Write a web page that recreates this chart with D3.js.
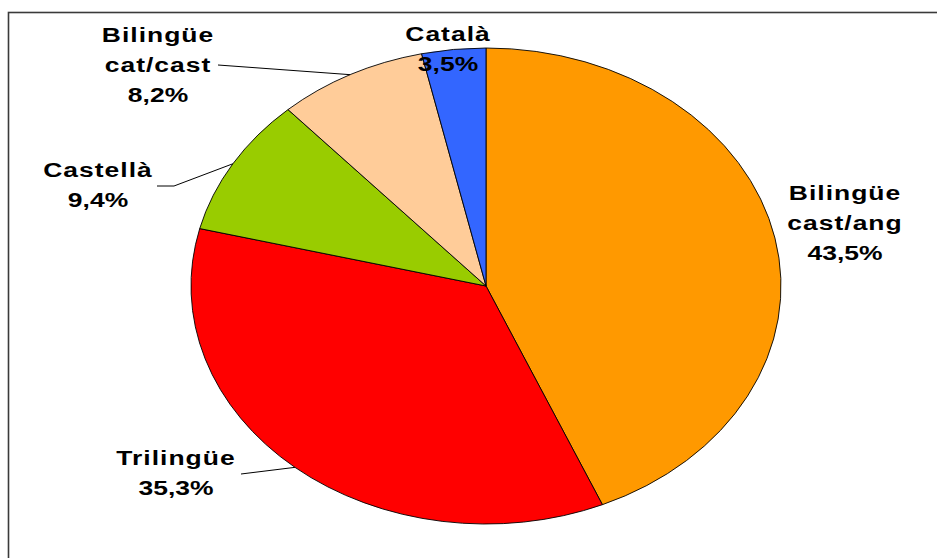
<!DOCTYPE html>
<html>
<head>
<meta charset="utf-8">
<script src="https://cdn.jsdelivr.net/npm/d3@7"></script>
<style>
  html, body { margin: 0; padding: 0; background: #fff; }
  svg { display: block; }
  .lbl { font-family: Arial, "Liberation Sans", sans-serif; font-weight: bold; font-size: 21px; fill: #000; }
  .lbl.name { letter-spacing: 0.8px; }
</style>
</head>
<body>
<svg id="chart" width="937" height="558"></svg>
<script>
// Slices, clockwise from 12 o'clock
const categories = ["Bilingüe cast/ang", "Trilingüe", "Castellà", "Bilingüe cat/cast", "Català"];
const values = [43.5, 35.3, 9.4, 8.2, 3.5];
const colors = ["#FF9900", "#FF0000", "#99CC00", "#FFCC99", "#3366FF"];
// Label text lines (name split over rows)
const labelLines = [["Bilingüe", "cast/ang"], ["Trilingüe"], ["Castellà"], ["Bilingüe", "cat/cast"], ["Català"]];

// Layout: label centre x, first baseline y, and leader start (null = no leader)
const labelLayout = [
  { x: 845, y: 200, leader: null },
  { x: 176, y: 465, leader: [[241, 474]] },
  { x: 98,  y: 177, leader: [[157, 186], [174, 186]] },
  { x: 158, y: 42,  leader: [[218, 65]] },
  { x: 448, y: 41,  leader: null }
];

const W = 937, H = 558;
const cx = 486, cy = 286, rx = 295, ry = 238;
const sx = rx / ry;
const textScaleX = 1.26;
const lineH = 30;

const svg = d3.select("#chart");

// Outer frame
svg.append("rect")
  .attr("x", 8.5).attr("y", 12.5)
  .attr("width", W).attr("height", H)
  .attr("fill", "none").attr("stroke", "#3a3a3a").attr("stroke-width", 1.6);

const data = categories.map((c, i) => ({ name: c, value: values[i], color: colors[i], lines: labelLines[i], layout: labelLayout[i] }));

const pie = d3.pie().sort(null).value(d => d.value);
const arcs = pie(data);
const arc = d3.arc().innerRadius(0).outerRadius(ry);

const g = svg.append("g").attr("transform", `translate(${cx},${cy}) scale(${sx},1)`);
g.selectAll("path").data(arcs).join("path")
  .attr("d", arc)
  .attr("fill", d => d.data.color)
  .attr("stroke", "#000")
  .attr("stroke-width", 0.9)
  .attr("vector-effect", "non-scaling-stroke");

const locale = d3.formatLocale({ decimal: ",", thousands: ".", grouping: [3], currency: ["", "€"] });
const pct = locale.format(".1f");

// Leader lines from label to the slice's outer edge at its mid angle
arcs.forEach(a => {
  const L = a.data.layout;
  if (!L.leader) return;
  const mid = (a.startAngle + a.endAngle) / 2;
  const end = [cx + rx * Math.sin(mid), cy - ry * Math.cos(mid)];
  const pts = L.leader.concat([end]);
  svg.append("path")
    .attr("d", d3.line()(pts))
    .attr("fill", "none").attr("stroke", "#000").attr("stroke-width", 1);
});

// Labels
arcs.forEach(a => {
  const L = a.data.layout;
  const rows = a.data.lines.map(r => ({ text: r, name: true }))
    .concat([{ text: pct(a.data.value) + "%", name: false }]);
  const t = svg.append("g").attr("transform", `translate(${L.x},${L.y}) scale(${textScaleX},1)`);
  rows.forEach((r, i) => {
    t.append("text").attr("class", r.name ? "lbl name" : "lbl")
      .attr("x", 0).attr("y", i * lineH)
      .attr("text-anchor", "middle")
      .text(r.text);
  });
});
</script>
</body>
</html>
